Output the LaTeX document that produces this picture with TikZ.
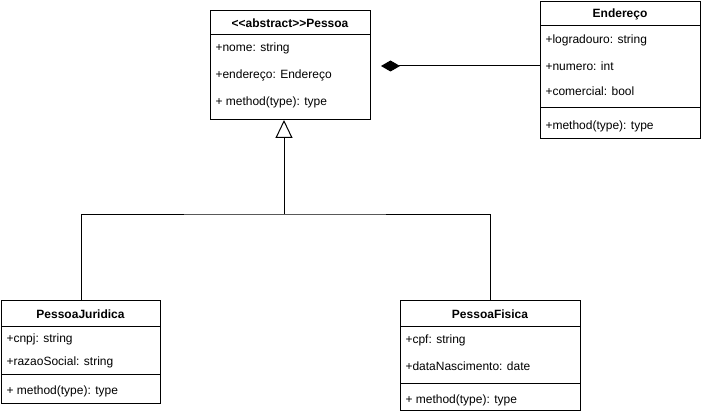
\documentclass[tikz,border=0pt]{standalone}
\usepackage{fontspec}
\setmainfont{Liberation Sans}
\usetikzlibrary{arrows.meta}

\begin{document}
\begin{tikzpicture}[x=1pt,y=-1pt,line width=1pt]
\tikzstyle{every node}+=[inner sep=0pt, font=\fontsize{12}{14}\selectfont]
\tikzstyle{classbox}=[draw, anchor=north west]
\tikzstyle{classname}=[font=\fontsize{12}{14}\selectfont\bfseries]
\tikzstyle{member}=[anchor=west]
\tikzstyle{comp}=[-{Diamond[length=19pt,width=11pt]}]
\tikzstyle{inherit}=[-{Triangle[open,length=18pt,width=17pt,fill=white]}]
\useasboundingbox (0,0) rectangle (701,414);
% Pessoa
\node[classbox, minimum width=160pt, minimum height=109pt] (pessoa) at (210,10) {};
\draw (pessoa.north west) ++(0,25) -- ++(160,0);
\node[classname] (pessoa-name) at (290,23) {<\kern0pt<\kern0pt abstract>\kern0pt>\kern0pt Pessoa};
\node[member] (pessoa-nome) at (215,48) {+nome: string};
\node[member] (pessoa-end) at (215,75) {+endereço: Endereço};
\node[member] (pessoa-m) at (215,102) {+ method(type): type};
% Endereco
\node[classbox, minimum width=160pt, minimum height=137pt] (endereco) at (540,1) {};
\draw (endereco.north west) ++(0,25) -- ++(160,0);
\draw (endereco.north west) ++(0,107) -- ++(160,0);
\node[classname] (endereco-name) at (620,14) {Endereço};
\node[member] (endereco-log) at (545,40) {+logradouro: string};
\node[member] (endereco-num) at (545,66) {+numero: int};
\node[member] (endereco-com) at (545,91) {+comercial: bool};
\node[member] (endereco-m) at (545,126) {+method(type): type};
% PessoaJuridica
\node[classbox, minimum width=159pt, minimum height=103pt] (jur) at (1,300) {};
\draw (jur.north west) ++(0,26) -- ++(159,0);
\draw (jur.north west) ++(0,74) -- ++(159,0);
\node[classname] (jur-name) at (80.5,314) {PessoaJuridica};
\node[member] (jur-cnpj) at (6,339) {+cnpj: string};
\node[member] (jur-razao) at (6,362) {+razaoSocial: string};
\node[member] (jur-m) at (6,391) {+ method(type): type};
% PessoaFisica
\node[classbox, minimum width=180pt, minimum height=110pt] (fis) at (400,300) {};
\draw (fis.north west) ++(0,26) -- ++(180,0);
\draw (fis.north west) ++(0,83) -- ++(180,0);
\node[classname] (fis-name) at (490,314) {PessoaFisica};
\node[member] (fis-cpf) at (405,340) {+cpf: string};
\node[member] (fis-data) at (405,366) {+dataNascimento: date};
\node[member] (fis-m) at (405,400) {+ method(type): type};
% connectors
\coordinate (diamtip) at (381,66);
\draw[comp] (endereco.west |- diamtip) -- (diamtip);
\coordinate (gen) at (284,214);
\draw[inherit] (gen) -- (gen |- pessoa.south);
\draw (jur.north) |- (gen) -| (fis.north);
\end{tikzpicture}
\end{document}
